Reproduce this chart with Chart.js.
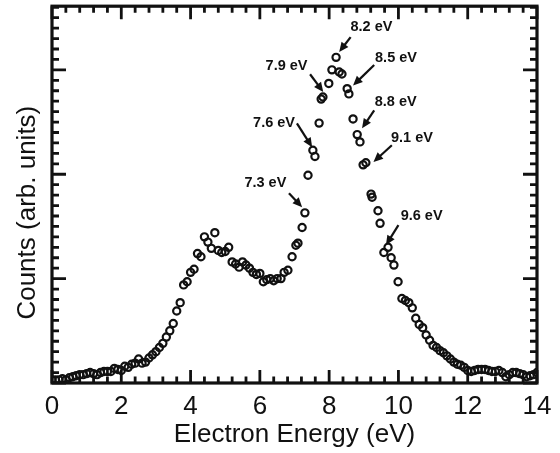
<!DOCTYPE html>
<html><head><meta charset="utf-8">
<script src="https://cdn.jsdelivr.net/npm/chart.js@4/dist/chart.umd.min.js"></script>
<style>html,body{margin:0;padding:0;background:#fff}</style>
</head><body>
<canvas id="c" width="560" height="453" style="display:block;width:560px;height:453px"></canvas>
<script>
// Electron energy (eV)
const energy = [0,0.1,0.2,0.3,0.4,0.5,0.6,0.7,0.8,0.9,1.0,1.1,1.2,1.3,1.4,1.5,1.6,1.7,1.8,1.9,
  2.0,2.1,2.2,2.3,2.4,2.5,2.6,2.7,2.8,2.9,3.0,3.1,3.2,3.3,3.4,3.5,3.6,3.7,3.8,3.9,
  4.0,4.1,4.2,4.3,4.4,4.5,4.6,4.7,4.8,4.9,5.0,5.1,5.2,5.3,5.4,5.5,5.6,5.7,5.8,5.9,
  6.0,6.1,6.2,6.3,6.4,
  6.50,6.61,6.70,6.81,6.93,7.04,7.10,7.22,7.30,7.39,7.53,7.59,7.71,7.77,7.82,7.99,8.08,8.20,8.29,8.37,
  8.52,8.57,8.69,8.81,8.89,8.98,9.06,9.21,9.24,9.41,9.47,9.58,9.70,9.79,9.87,9.99,
  10.1,10.2,10.3,10.4,10.5,10.6,10.7,10.8,10.9,
  11.0,11.1,11.2,11.3,11.4,11.5,11.6,11.7,11.8,11.9,
  12.0,12.1,12.2,12.3,12.4,12.5,12.6,12.7,12.8,12.9,
  13.0,13.1,13.2,13.3,13.4,13.5,13.6,13.7,13.8,13.9,14.0];
// Counts (arb. units)
const counts = [3,3,3,4,3,5,6,7,8,8,9,10,9,8,10,11,11,11,14,13,
  12,16,15,18,19,23,19,20,24,27,30,34,38,44,50,57,69,77,94,97,
  106,109,124,121,140,135,129,144,127,125,126,130,116,114,111,116,113,110,106,104,
  105,97,99,100,98,
  100,100,106,108,121,132,134,149,163,199,223,217,249,272,274,287,300,312,298,296,
  282,277,253,238,231,209,211,181,178,165,153,125,130,120,113,97,
  81,79,77,72,62,56,53,46,41,
  36,34,31,29,26,23,20,18,17,15,
  12,11,12,13,13,13,12,11,11,12,
  10,6,8,10,10,9,8,6,7,8,10];

// Annotations (data coordinates)
const noteText  = ['7.3 eV','7.6 eV','7.9 eV','8.2 eV','8.5 eV','8.8 eV','9.1 eV','9.6 eV'];
const noteX     = [6.16, 6.41, 6.77, 9.22, 9.93, 9.92, 10.39, 10.67];
const noteY     = [191.4, 249.3, 303.4, 341.2, 311.5, 268.9, 234.5, 159.8];
const arrowX0   = [6.84, 7.07, 7.45, 8.62, 9.30, 9.30, 9.81, 10.00];
const arrowY0   = [181.8, 248.8, 295.8, 331.4, 304.6, 261.3, 227.8, 151.2];
const arrowX1   = [7.22, 7.51, 7.83, 8.29, 8.69, 8.95, 9.28, 9.64];
const arrowY1   = [168.4, 225.9, 278.8, 317.1, 285.0, 244.0, 211.8, 132.1];

const FONT = '"Liberation Sans", Arial, Helvetica, sans-serif';

const frameTicks = {
  id: 'frameTicks',
  afterDatasetsDraw(chart) {
    const {ctx, chartArea: a, scales: {x, y}} = chart;
    ctx.save();
    ctx.strokeStyle = '#111';
    ctx.fillStyle = '#111';
    ctx.lineCap = 'butt';
    ctx.lineWidth = 2.8;
    ctx.beginPath();
    for (let i = 0; i <= 35; i++) {
      const px = x.getPixelForValue(i * 0.4);
      const len = i % 5 === 0 ? 13 : 6.5;
      ctx.moveTo(px, a.bottom); ctx.lineTo(px, a.bottom - len);
      ctx.moveTo(px, a.top); ctx.lineTo(px, a.top + len);
    }
    for (let i = 0; i * 10 <= y.max; i++) {
      const py = y.getPixelForValue(i * 10);
      const len = i % 10 === 0 ? 14 : 7;
      ctx.moveTo(a.left, py); ctx.lineTo(a.left + len, py);
      ctx.moveTo(a.right, py); ctx.lineTo(a.right - len, py);
    }
    ctx.stroke();
    ctx.lineWidth = 3.2;
    ctx.strokeRect(a.left, a.top, a.right - a.left, a.bottom - a.top);

    // annotations
    ctx.font = 'bold 14.5px ' + FONT;
    ctx.textAlign = 'center';
    ctx.textBaseline = 'middle';
    ctx.lineWidth = 2.2;
    for (let k = 0; k < noteText.length; k++) {
      ctx.fillText(noteText[k], x.getPixelForValue(noteX[k]), y.getPixelForValue(noteY[k]));
      const x0 = x.getPixelForValue(arrowX0[k]), y0 = y.getPixelForValue(arrowY0[k]);
      const x1 = x.getPixelForValue(arrowX1[k]), y1 = y.getPixelForValue(arrowY1[k]);
      const ang = Math.atan2(y1 - y0, x1 - x0);
      const hl = 9.5, hw = 4.3;
      const bx = x1 - hl * Math.cos(ang), by = y1 - hl * Math.sin(ang);
      ctx.beginPath(); ctx.moveTo(x0, y0); ctx.lineTo(bx + Math.cos(ang), by + Math.sin(ang)); ctx.stroke();
      ctx.beginPath();
      ctx.moveTo(x1, y1);
      ctx.lineTo(bx + hw * Math.sin(ang), by - hw * Math.cos(ang));
      ctx.lineTo(bx - hw * Math.sin(ang), by + hw * Math.cos(ang));
      ctx.closePath(); ctx.fill();
    }
    ctx.restore();
  }
};

new Chart(document.getElementById('c'), {
  type: 'scatter',
  data: {
    datasets: [{
      data: energy.map((e, i) => ({x: e, y: counts[i]})),
      pointStyle: 'circle',
      pointRadius: 3.6,
      pointBorderWidth: 2.2,
      borderColor: '#111',
      backgroundColor: 'rgba(0,0,0,0)',
      showLine: false
    }]
  },
  options: {
    responsive: false,
    animation: false,
    events: [],
    layout: {padding: {left: 0, right: 23, top: 6, bottom: 0}},
    plugins: {legend: {display: false}, tooltip: {enabled: false}},
    scales: {
      x: {
        type: 'linear', min: 0, max: 14,
        grid: {display: false, drawTicks: false},
        border: {display: false},
        ticks: {stepSize: 2, autoSkip: false, maxRotation: 0, padding: 8, color: '#111',
                font: {size: 26, family: FONT}},
        title: {display: true, text: 'Electron Energy (eV)', color: '#111',
                font: {size: 26, family: FONT}, padding: {top: 0, bottom: 3}},
        afterFit: s => { s.height = 70; }
      },
      y: {
        type: 'linear', min: 0, max: 361,
        grid: {display: false, drawTicks: false},
        border: {display: false},
        ticks: {display: false},
        title: {display: true, text: 'Counts (arb. units)     ', color: '#111',
                font: {size: 26, family: FONT}, padding: {top: 12, bottom: 0}},
        afterFit: s => { s.width = 52; }
      }
    }
  },
  plugins: [frameTicks]
});
</script>
</body></html>
